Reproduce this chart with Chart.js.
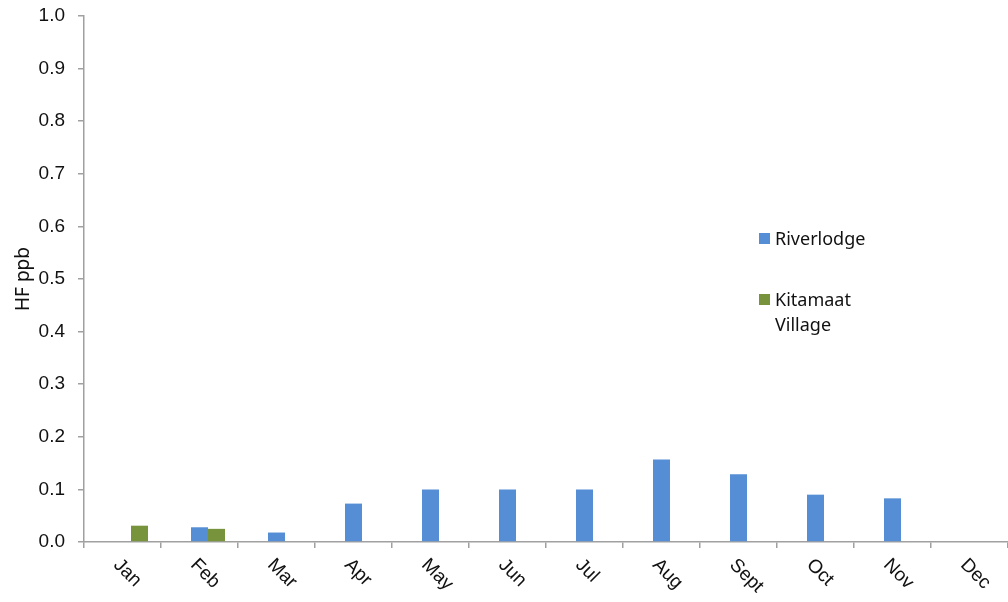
<!DOCTYPE html>
<html>
<head>
<meta charset="utf-8">
<script src="https://cdn.jsdelivr.net/npm/chart.js@4.4.0/dist/chart.umd.min.js"></script>
<style>
  html, body { margin: 0; padding: 0; background: #fff; }
  #wrap { position: relative; width: 1008px; height: 602px; }
  #legend { position: absolute; left: 759px; top: 226px; font-family: "Noto Sans", sans-serif; font-size: 18px; color: #111; }
  .item { display: flex; align-items: flex-start; margin-bottom: 36px; line-height: 25px; }
  .sw { width: 11px; height: 11px; margin: 7px 5px 0 0; flex: none; }
</style>
</head>
<body>
<div id="wrap">
  <canvas id="chart" width="1008" height="602"></canvas>
  <div id="legend"></div>
</div>
<script>
const months = ['Jan', 'Feb', 'Mar', 'Apr', 'May', 'Jun', 'Jul', 'Aug', 'Sept', 'Oct', 'Nov', 'Dec'];
// first series has no readings but keeps its slot in each month group
const emptySeries = [null, null, null, null, null, null, null, null, null, null, null, null];
const riverlodge = [null, 0.028, 0.018, 0.073, 0.10, 0.10, 0.10, 0.157, 0.129, 0.09, 0.083, null];
const kitamaat = [0.031, 0.025, null, null, null, null, null, null, null, null, null, null];
const seriesNames = ['Riverlodge', 'Kitamaat<br>Village'];
const seriesColors = ['#558ed5', '#77933c'];
const yTicks = [0, 0.1, 0.2, 0.3, 0.4, 0.5, 0.6, 0.7, 0.8, 0.9, 1.0];

const tickFont = { family: '"Liberation Sans", Arial, sans-serif', size: 19 };

// month labels slanted down-right, drawn at the category positions of the x scale
const slantedLabels = {
  id: 'slantedLabels',
  afterDraw(chart) {
    const x = chart.scales.x;
    const ctx = chart.ctx;
    ctx.save();
    ctx.font = `${tickFont.size}px ${tickFont.family}`;
    ctx.fillStyle = '#111';
    ctx.textAlign = 'left';
    ctx.textBaseline = 'middle';
    months.forEach((m, i) => {
      const px = x.getPixelForValue(i);
      ctx.save();
      ctx.translate(px - 6, x.top + 20);
      ctx.rotate(Math.PI / 4);
      ctx.fillText(m, 0, 0);
      ctx.restore();
    });
    ctx.restore();
  },
};

new Chart(document.getElementById('chart'), {
  type: 'bar',
  data: {
    labels: months,
    datasets: [
      { label: '', data: emptySeries, backgroundColor: 'transparent' },
      { label: 'Riverlodge', data: riverlodge, backgroundColor: seriesColors[0] },
      { label: 'Kitamaat Village', data: kitamaat, backgroundColor: seriesColors[1] },
    ],
  },
  options: {
    responsive: false,
    animation: false,
    layout: { padding: { top: 16, right: 0, bottom: 54, left: 0 } },
    plugins: { legend: { display: false }, tooltip: { enabled: false } },
    datasets: { bar: { categoryPercentage: 0.662, barPercentage: 1 } },
    scales: {
      x: {
        ticks: { display: false },
        grid: { display: true, drawOnChartArea: false, offset: true, tickLength: 6, color: '#a0a0a0', lineWidth: 1.5 },
        border: { color: '#a0a0a0', width: 1.5 },
      },
      y: {
        min: 0,
        max: 1,
        afterBuildTicks(scale) {
          scale.ticks = yTicks.map((v) => ({ value: v }));
        },
        afterFit(scale) {
          scale.width = 84;
          scale.paddingTop = 0;
          scale.paddingBottom = 0;
        },
        ticks: {
          font: tickFont,
          color: '#111',
          padding: 13,
          callback: (v) => Number(v).toFixed(1),
        },
        grid: { drawOnChartArea: false, tickLength: 6, color: '#a0a0a0', lineWidth: 1.5 },
        border: { color: '#a0a0a0', width: 1.5 },
        title: {
          display: true,
          text: 'HF ppb',
          font: { family: '"Noto Sans", sans-serif', size: 19 },
          color: '#111',
          padding: { top: 12, bottom: 0 },
        },
      },
    },
  },
  plugins: [slantedLabels],
});

document.getElementById('legend').innerHTML = seriesNames
  .map((name, i) => `<div class="item"><span class="sw" style="background:${seriesColors[i]}"></span><span>${name}</span></div>`)
  .join('');
</script>
</body>
</html>
